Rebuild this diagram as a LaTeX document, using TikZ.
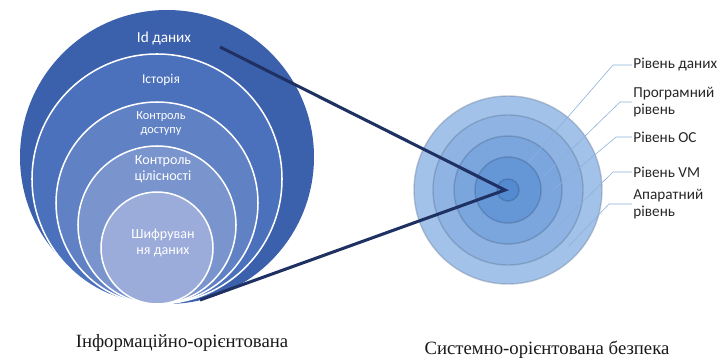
\documentclass[tikz,border=0pt]{standalone}
\usepackage{fontspec}
\setmainfont{Liberation Serif}
\newfontfamily\calfont{Carlito}
\usetikzlibrary{calc,positioning}
\definecolor{infoA}{RGB}{60,97,172}
\definecolor{infoB}{RGB}{75,113,188}
\definecolor{infoC}{RGB}{96,129,196}
\definecolor{infoD}{RGB}{122,148,206}
\definecolor{infoE}{RGB}{155,171,218}
\definecolor{sysA}{RGB}{163,194,233}
\definecolor{sysB}{RGB}{143,180,227}
\definecolor{sysC}{RGB}{122,165,221}
\definecolor{sysD}{RGB}{101,150,214}
\definecolor{sysE}{RGB}{84,139,208}
\definecolor{navy}{RGB}{30,49,98}
\definecolor{leadblue}{RGB}{140,176,222}
\tikzstyle{inlabel} = [text=white, align=center, inner sep=1pt]
\tikzstyle{level} = [text=black!85, font=\calfont\fontsize{13}{14.5}\selectfont, align=left, anchor=west, inner sep=1pt]
\tikzstyle{leader} = [draw=leadblue, line width=0.5pt]
\tikzstyle{beam} = [draw=navy, line width=2.6pt, line join=miter]
\tikzstyle{caption} = [font=\fontsize{16}{18}\selectfont, text=black!90]

\begin{document}
\begin{tikzpicture}[x=0.03cm,y=-0.03cm]
        \useasboundingbox (0,0) rectangle (721,363);

        \fill[infoA] (167,157) circle (147);
        \draw[white, line width=1.3pt, fill=infoB] (157,179) circle (125);
        \draw[white, line width=1.3pt, fill=infoC] (157,203) circle (101);
        \draw[white, line width=1.3pt, fill=infoD] (157,225) circle (79);
        \draw[white, line width=1.3pt, fill=infoE] (157,248) circle (56);

        \node[inlabel, font=\calfont\fontsize{13}{15}\selectfont] (iddata) at (164,38) {Id даних};
        \node[inlabel, font=\calfont\fontsize{11.5}{13}\selectfont] (history) at (161,80) {Історія};
        \node[inlabel, font=\calfont\fontsize{10.5}{12}\selectfont] (access) at (161,124) {Контроль\\доступу};
        \node[inlabel, font=\calfont\fontsize{12}{13.5}\selectfont] (integrity) at (163,169) {Контроль\\цілісності};
        \node[inlabel, font=\calfont\fontsize{12}{13.5}\selectfont] (encrypt) at (163,243) {Шифруван\\ня даних};

        \foreach \r/\c in {94/sysA,75/sysB,54/sysC,33/sysD,11/sysE}
        \draw[fill=\c, draw=\c!70!black, draw opacity=0.45, line width=1.2pt] (508,190) circle (\r);
        \coordinate (core) at (505,190);

        \coordinate (idend) at (220,47);
        \coordinate (lowend) at (200,300);
        \draw[beam] (idend) -- (core) -- (lowend);

        \foreach \i/\y/\ex/\ey/\kx/\txt in {1/65/528/163/613/{Рівень даних},2/102/543/177/620/{Програмний\\рівень},3/137/553/190/616/{Рівень ОС},4/172/557/227/613/{Рівень VM},5/204/568/247/609/{Апаратний\\рівень}}
        {
        \node[level] (lvl\i) at (632,\y) {\txt};
        \coordinate (tip\i) at (\ex,\ey);
        \coordinate (knee\i) at (\kx,\y);
        \draw[leader] (tip\i) -- (knee\i) -- (lvl\i.west);
        }

        \node[caption] (infocap) at (182,343) {Інформаційно-орієнтована};
        \node[caption] (syscap) at (547,350) {Системно-орієнтована безпека};

\end{tikzpicture}
\end{document}
